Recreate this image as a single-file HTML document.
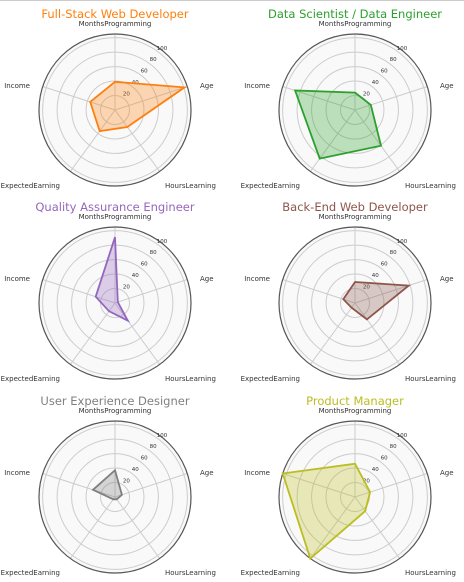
<!DOCTYPE html>
<html><head><meta charset="utf-8"><style>
html,body{margin:0;padding:0;background:#fff;width:464px;height:582px;overflow:hidden}
svg{display:block;font-family:"DejaVu Sans","Liberation Sans",sans-serif}
</style></head><body>
<svg id="chart" width="464" height="582" viewBox="0 0 464 582">
<line x1="0" y1="0.5" x2="464" y2="0.5" stroke="#ccc"/>
</svg>
<script>
const categories = ["MonthsProgramming","Age","HoursLearning","ExpectedEarning","Income"];
const roles = ["Full-Stack Web Developer","Data Scientist / Data Engineer","Quality Assurance Engineer","Back-End Web Developer","User Experience Designer","Product Manager"];
const fullStackValues = [39, 101, 29, 36, 36];
const dataScienceValues = [24, 23, 61, 83, 87];
const qaValues = [91, 4, 30, 14, 28];
const backEndValues = [29, 78, 28, 8, 17];
const uxValues = [37, 10, 4, 4, 32];
const productValues = [46, 22, 24, 106, 107];
const tickLabels = [20, 40, 60, 80, 100];
const rMax = 105;

const seriesList = [fullStackValues, dataScienceValues, qaValues, backEndValues, uxValues, productValues];
const colors = ["#ff7f0e","#2ca02c","#9467bd","#8c564b","#7f7f7f","#bcbd22"];
const centers = [[115,110],[355,110],[115,303],[355,303],[115,497],[355,497]];
const R = 76;
const NS = "http://www.w3.org/2000/svg";
const svg = document.getElementById("chart");
function mk(tag, attrs, parent){const e=document.createElementNS(NS,tag);for(const k in attrs)e.setAttribute(k,attrs[k]);parent.appendChild(e);return e;}
function rScale(v){return Math.min(v,rMax)/rMax*R;}
function angle(i){return (90 - i*360/categories.length)*Math.PI/180;}
function pt(cx,cy,i,v){const a=angle(i),r=rScale(v);return [cx+r*Math.cos(a), cy-r*Math.sin(a)];}

roles.forEach((role, k) => {
  const [cx, cy] = centers[k];
  const g = mk("g", {}, svg);
  
  
  const bg = mk("circle", {cx, cy, r: R, fill: "#f9f9f9", stroke: "none"}, g);
  
  
  tickLabels.forEach(t => {
    const c = mk("circle", {cx, cy, r: rScale(t), fill: "none", stroke: "#cccccc", "stroke-width": 1}, g);
    
    
  });
  categories.forEach((cat, i) => {
    const [x, y] = pt(cx, cy, i, rMax);
    const l = mk("line", {x1: cx, y1: cy, x2: x, y2: y, stroke: "#cccccc", "stroke-width": 1}, g);
    
    
  });
  const outer = mk("circle", {cx, cy, r: R, fill: "none", stroke: "#555", "stroke-width": 1.2}, g);
  
  
  tickLabels.forEach(t => {
    const a = 52*Math.PI/180, r = rScale(t) + 4;
    const tx = mk("text", {x: cx + r*Math.cos(a), y: cy - r*Math.sin(a), "font-size": 5.5, fill: "#333", "text-anchor": "middle"}, g);
    tx.textContent = t;
    
    
  });
  const vals = seriesList[k];
  const pts = vals.map((v, i) => pt(cx, cy, i, v).map(n => n.toFixed(1)).join(",")).join(" ");
  const poly = mk("polygon", {points: pts, fill: colors[k], "fill-opacity": 0.3, stroke: colors[k], "stroke-width": 1.8, "stroke-linejoin": "miter"}, g);
  
  
  const labelPos = [[cx, cy-86, "middle"], [cx+85, cy-24, "start"], [cx+50, cy+76, "start"], [cx-55, cy+76, "end"], [cx-85, cy-24, "end"]];
  categories.forEach((cat, i) => {
    const [x, y, anc] = labelPos[i];
    const tx = mk("text", {x, y: y+2, "font-size": 7, fill: "#333", "text-anchor": anc}, g);
    tx.textContent = cat;
    
    
  });
  const title = mk("text", {x: cx, y: cy - 92, "font-size": 11.5, fill: colors[k], "text-anchor": "middle"}, g);
  title.textContent = role;
  
  
});
</script>
</body></html>
